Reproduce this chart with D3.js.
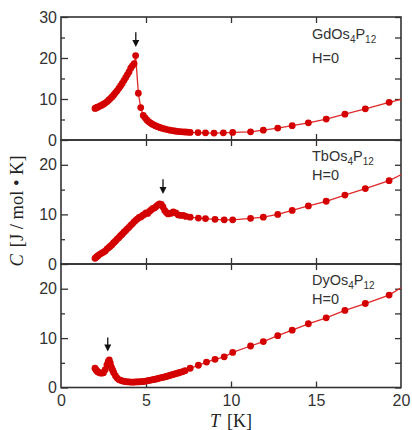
<!DOCTYPE html>
<html>
<head>
<meta charset="utf-8">
<script src="https://cdn.jsdelivr.net/npm/d3@7"></script>
<style>
  body { margin: 0; background: #fff; }
  svg { display: block; }
  .tick text { font-family: "Liberation Sans", Arial, sans-serif; font-size: 16px; fill: #333; }
</style>
</head>
<body>
<svg id="chart"></svg>
<script>
// specific heat, C [J/mol K] vs T [K]
const gdT = [2.0, 2.05, 2.1, 2.15, 2.2, 2.3, 2.4, 2.5, 2.6, 2.7, 2.8, 2.9, 3.0, 3.1, 3.2, 3.3, 3.4, 3.5, 3.6, 3.7, 3.8, 3.9, 4.0, 4.1, 4.2, 4.3, 4.39,
  4.55, 4.69, 4.84, 4.95, 5.05, 5.15, 5.25, 5.35, 5.45, 5.55, 5.65, 5.75, 5.85, 5.95, 6.1, 6.25, 6.4, 6.55, 6.7, 6.85, 7.0, 7.15, 7.3, 7.45, 7.6,
  8.06, 8.5, 9.0, 9.55, 10.1, 11.15, 11.9, 12.75, 13.6, 14.55, 15.6, 16.7, 17.9, 19.3];
const gdC = [7.7, 7.8, 7.9, 8.0, 8.1, 8.3, 8.5, 8.75, 9.0, 9.3, 9.7, 10.1, 10.5, 11.0, 11.5, 12.0, 12.6, 13.2, 13.8, 14.5, 15.2, 15.9, 16.6, 17.5, 18.1, 18.6, 20.6,
  11.4, 7.9, 6.0, 5.4, 4.9, 4.5, 4.2, 3.9, 3.7, 3.5, 3.3, 3.15, 3.0, 2.85, 2.7, 2.55, 2.4, 2.3, 2.2, 2.1, 2.05, 2.0, 1.95, 1.9, 1.85,
  1.8, 1.75, 1.7, 1.75, 1.85, 2.0, 2.4, 2.9, 3.5, 4.2, 5.1, 6.3, 7.6, 9.2];

const tbT = [2.0, 2.05, 2.1, 2.15, 2.2, 2.3, 2.4, 2.5, 2.6, 2.7, 2.8, 2.9, 3.0, 3.1, 3.2, 3.3, 3.4, 3.5, 3.6, 3.7, 3.8, 3.9, 4.0, 4.1, 4.2, 4.3, 4.4,
  4.5, 4.6, 4.7, 4.8, 4.9, 5.0, 5.1, 5.2, 5.3, 5.4, 5.5, 5.6, 5.7, 5.8, 5.9, 6.0, 6.1, 6.2, 6.3, 6.45, 6.6, 6.75, 6.9, 7.05, 7.2, 7.35, 7.6,
  8.08, 8.5, 9.06, 9.6, 10.1, 11.15, 11.9, 12.75, 13.6, 14.55, 15.6, 16.7, 17.9, 19.3];
const tbC = [1.15, 1.3, 1.45, 1.6, 1.75, 2.0, 2.2, 2.4, 2.6, 3.0, 3.3, 3.6, 3.9, 4.3, 4.6, 5.0, 5.3, 5.7, 6.0, 6.4, 6.7, 7.1, 7.4, 7.8, 8.1, 8.5, 8.8,
  9.1, 9.4, 9.5, 9.8, 10.0, 10.3, 10.2, 10.6, 10.9, 11.2, 11.3, 11.6, 11.9, 12.1, 12.0, 11.5, 10.8, 10.4, 10.1, 10.2, 10.5, 10.3, 9.9, 9.8, 9.8, 9.6, 9.45,
  9.25, 9.15, 9.0, 8.9, 8.9, 9.2, 9.45, 10.0, 10.8, 11.7, 12.65, 13.9, 15.2, 16.8];

const dyT = [2.0, 2.05, 2.1, 2.15, 2.2, 2.3, 2.4, 2.5, 2.6, 2.7, 2.78, 2.84, 2.9, 2.95, 3.0, 3.05, 3.1, 3.2, 3.3, 3.4, 3.5, 3.6, 3.7, 3.8, 3.9, 4.0,
  4.1, 4.2, 4.3, 4.4, 4.5, 4.6, 4.7, 4.8, 4.9, 5.0, 5.1, 5.2, 5.3, 5.4, 5.5, 5.6, 5.7, 5.8, 5.9, 6.0, 6.1, 6.2, 6.3, 6.4, 6.5, 6.6, 6.7, 6.8, 6.9,
  7.0, 7.15, 7.3, 7.6, 8.08, 8.56, 9.06, 9.6, 10.1, 11.15, 11.9, 12.75, 13.6, 14.55, 15.6, 16.7, 17.9, 19.3];
const dyC = [3.9, 3.6, 3.4, 3.2, 3.1, 2.95, 2.9, 3.0, 3.6, 4.6, 5.3, 5.6, 5.0, 4.2, 3.8, 3.4, 3.0, 2.4, 1.9, 1.6, 1.45, 1.35, 1.25, 1.2, 1.15, 1.15,
  1.1, 1.1, 1.1, 1.12, 1.15, 1.15, 1.18, 1.2, 1.25, 1.3, 1.38, 1.45, 1.5, 1.58, 1.65, 1.72, 1.8, 1.9, 2.0, 2.05, 2.15, 2.25, 2.35, 2.45, 2.55, 2.65, 2.75, 2.85, 2.95,
  3.05, 3.2, 3.4, 3.9, 4.5, 5.15, 5.7, 6.2, 7.1, 8.4, 9.3, 10.5, 11.6, 12.9, 14.1, 15.6, 17.0, 18.7];

// the drawn line runs on to T = 20 past the last point
const lineEndC = [9.9, 18.0, 20.2];

const compounds = ["Gd", "Tb", "Dy"];
const yMaxes = [30, 25, 25];
const yMajor = [[0, 10, 20, 30], [0, 10, 20], [0, 10, 20]];
const yMinor = [[5, 15, 25], [5, 15], [5, 15]];
const xTicks = [0, 5, 10, 15, 20];

// transition arrows: T position, C of tail and of tip
const arrowT = [4.4, 6.0, 2.75];
const arrowFrom = [26.3, 17.1, 10.1];
const arrowTo = [22.7, 14.1, 7.3];

const series = [[gdT, gdC], [tbT, tbC], [dyT, dyC]];

const width = 412, height = 430;
const left = 61, right = 401;
const panelTops = [17, 140, 264];
const panelBottoms = [140, 264, 387.5];
const red = "#d40000";
const axisColor = "#333";

const svg = d3.select("#chart").attr("width", width).attr("height", height);

const x = d3.scaleLinear().domain([0, 20]).range([left, right]);

compounds.forEach((el, i) => {
  const y = d3.scaleLinear().domain([0, yMaxes[i]]).range([panelBottoms[i], panelTops[i]]);
  const g = svg.append("g");

  // ticks, all pointing inward
  g.append("g").attr("transform", `translate(${left},0)`)
    .call(d3.axisLeft(y).tickValues(yMajor[i]).tickSize(-7).tickPadding(4));
  g.append("g").attr("transform", `translate(${left},0)`)
    .call(d3.axisLeft(y).tickValues(yMinor[i]).tickSize(-4).tickFormat(""));
  g.append("g").attr("transform", `translate(${right},0)`)
    .call(d3.axisRight(y).tickValues(yMajor[i].concat(yMinor[i])).tickSize(-6).tickFormat(""));
  g.append("g").attr("transform", `translate(0,${panelTops[i]})`)
    .call(d3.axisTop(x).tickValues(xTicks.slice(1, -1)).tickSize(-6).tickFormat(""));
  const xb = g.append("g").attr("transform", `translate(0,${panelBottoms[i]})`)
    .call(d3.axisBottom(x).tickValues(i === 2 ? xTicks : xTicks.slice(1, -1)).tickSize(-6).tickPadding(7)
      .tickFormat(i === 2 ? d3.format("d") : ""));
  xb.selectAll(".tick line").filter(d => d === 0 || d === 20).remove();
  g.selectAll(".domain").remove();
  g.selectAll(".tick line").attr("stroke", axisColor).attr("stroke-width", 1.3);

  g.append("rect")
    .attr("x", left).attr("y", panelTops[i])
    .attr("width", right - left).attr("height", panelBottoms[i] - panelTops[i])
    .attr("fill", "none").attr("stroke", axisColor).attr("stroke-width", 1.6);

  // data
  const [ts, cs] = series[i];
  const pts = ts.map((t, k) => [t, cs[k]]);
  const linePts = pts.concat([[20, lineEndC[i]]]);
  g.append("path")
    .datum(linePts)
    .attr("fill", "none")
    .attr("stroke", "#e02828")
    .attr("stroke-width", 1.3)
    .attr("d", d3.line().x(d => x(d[0])).y(d => y(d[1])));
  g.selectAll("circle.pt").data(pts).join("circle")
    .attr("class", "pt")
    .attr("cx", d => x(d[0])).attr("cy", d => y(d[1]))
    .attr("r", 3.4)
    .attr("fill", red);

  // arrow
  const ax = x(arrowT[i]), ay0 = y(arrowFrom[i]), ay1 = y(arrowTo[i]);
  g.append("line")
    .attr("x1", ax).attr("x2", ax).attr("y1", ay0).attr("y2", ay1 - 5)
    .attr("stroke", "#111").attr("stroke-width", 1.3);
  g.append("path")
    .attr("d", `M${ax - 3.5},${ay1 - 7}L${ax + 3.5},${ay1 - 7}L${ax},${ay1}Z`)
    .attr("fill", "#111");

  // compound label
  const lab = g.append("text")
    .attr("x", 312).attr("y", panelTops[i] + (i === 0 ? 22 : 21))
    .attr("font-family", "Liberation Sans, Arial, sans-serif")
    .attr("font-size", 14.5).attr("fill", axisColor);
  lab.append("tspan").text(el + "Os");
  lab.append("tspan").attr("font-size", 10).attr("dy", 4).text("4");
  lab.append("tspan").attr("dy", -4).text("P");
  lab.append("tspan").attr("font-size", 10).attr("dy", 4).text("12");
  g.append("text")
    .attr("x", 312).attr("y", panelTops[i] + (i === 0 ? 46 : 40))
    .attr("font-family", "Liberation Sans, Arial, sans-serif")
    .attr("font-size", 14.5).attr("fill", axisColor)
    .text("H=0");
});

// axis titles
const xt = svg.append("text")
  .attr("x", x(10)).attr("y", 427)
  .attr("text-anchor", "middle")
  .attr("font-family", "Liberation Serif, Times New Roman, serif")
  .attr("font-size", 18).attr("fill", "#222");
xt.append("tspan").attr("font-style", "italic").text("T");
xt.append("tspan").attr("dx", 7).text("[K]");

const yt = svg.append("text")
  .attr("transform", "translate(23,211) rotate(-90)")
  .attr("text-anchor", "middle")
  .attr("font-family", "Liberation Serif, Times New Roman, serif")
  .attr("font-size", 18.5).attr("fill", "#222");
yt.append("tspan").attr("font-style", "italic").text("C");
yt.append("tspan").attr("dx", 7).text("[J / mol \u2022 K]");
</script>
</body>
</html>
